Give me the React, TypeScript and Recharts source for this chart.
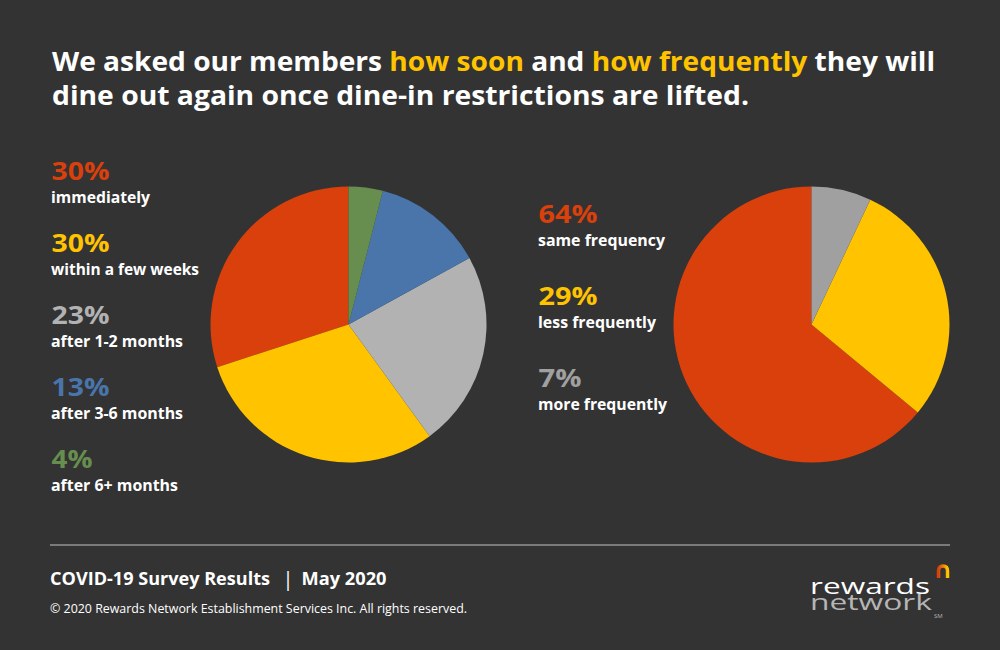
import React from 'react';
import { PieChart, Pie, Cell } from 'recharts';

const soonCategories = ['immediately', 'within a few weeks', 'after 1-2 months', 'after 3-6 months', 'after 6+ months'];
const soonValues = [30, 30, 23, 13, 4];
const soonColors = ['#D9400B', '#FFC300', '#B2B2B2', '#4A75AB', '#678E4E'];

const freqCategories = ['same frequency', 'less frequently', 'more frequently'];
const freqValues = [64, 29, 7];
const freqColors = ['#D9400B', '#FFC300', '#A0A0A0'];

const soonData = soonCategories.map((name, i) => ({ name, value: soonValues[i] }));
const freqData = freqCategories.map((name, i) => ({ name, value: freqValues[i] }));

const FONT = '"Open Sans", Lato, sans-serif';
const BG = '#333333';

const soonPctWidths = [58, 58, 58, 58, 41];
const soonLabelWidths = [99, 148, 132, 132, 127];
const freqPctWidths = [59, 59, 43];
const freqLabelWidths = [127, 118, 129];

export default function App() {
  return (
    <div style={{ position: 'absolute', left: 0, top: 0, width: 1000, height: 650, background: BG, overflow: 'hidden' }}>
      <div style={{ position: 'absolute', left: 0, top: 0 }}>
        <PieChart width={1000} height={650} margin={{ top: 0, right: 0, bottom: 0, left: 0 }}>
          <Pie
            data={soonData}
            dataKey="value"
            nameKey="name"
            cx={348.5}
            cy={324.5}
            outerRadius={138}
            startAngle={90}
            endAngle={450}
            stroke="none"
            isAnimationActive={false}
          >
            {soonData.map((d, i) => (
              <Cell key={d.name} fill={soonColors[i]} />
            ))}
          </Pie>
          <Pie
            data={freqData}
            dataKey="value"
            nameKey="name"
            cx={811.5}
            cy={324.5}
            outerRadius={138}
            startAngle={90}
            endAngle={450}
            stroke="none"
            isAnimationActive={false}
          >
            {freqData.map((d, i) => (
              <Cell key={d.name} fill={freqColors[i]} />
            ))}
          </Pie>
        </PieChart>
      </div>
      <svg width={1000} height={650} style={{ position: 'absolute', left: 0, top: 0, pointerEvents: 'none' }}>
        <defs>
          <linearGradient id="logoGrad" x1="0" y1="0" x2="1" y2="0">
            <stop offset="0%" stopColor="#D9400B" />
            <stop offset="100%" stopColor="#FFC300" />
          </linearGradient>
        </defs>
        <text x={52} y={71} fontFamily={FONT} fontWeight={700} fontSize={27.5} fill="#ffffff" textLength={883} lengthAdjust="spacingAndGlyphs">
          <tspan>We asked our members </tspan>
          <tspan fill="#FFC300">how soon</tspan>
          <tspan> and </tspan>
          <tspan fill="#FFC300">how frequently</tspan>
          <tspan> they will</tspan>
        </text>
        <text x={52} y={105} fontFamily={FONT} fontWeight={700} fontSize={27.5} fill="#ffffff" textLength={697} lengthAdjust="spacingAndGlyphs">
          dine out again once dine-in restrictions are lifted.
        </text>

        {soonCategories.map((c, i) => (
          <g key={c}>
            <text x={51.5} y={179.5 + i * 72} fontFamily={FONT} fontWeight={700} fontSize={24.5} fill={soonColors[i]} textLength={soonPctWidths[i]} lengthAdjust="spacingAndGlyphs">
              {`${soonValues[i]}%`}
            </text>
            <text x={51} y={203 + i * 72} fontFamily={FONT} fontWeight={700} fontSize={16} fill="#ffffff" textLength={soonLabelWidths[i]} lengthAdjust="spacingAndGlyphs">
              {c}
            </text>
          </g>
        ))}

        {freqCategories.map((c, i) => (
          <g key={c}>
            <text x={538.5} y={223 + i * 82} fontFamily={FONT} fontWeight={700} fontSize={24.5} fill={freqColors[i]} textLength={freqPctWidths[i]} lengthAdjust="spacingAndGlyphs">
              {`${freqValues[i]}%`}
            </text>
            <text x={538} y={245.5 + i * 82} fontFamily={FONT} fontWeight={700} fontSize={16} fill="#ffffff" textLength={freqLabelWidths[i]} lengthAdjust="spacingAndGlyphs">
              {c}
            </text>
          </g>
        ))}

        <line x1={50} y1={545} x2={950} y2={545} stroke="#7A7A7A" strokeWidth={2} />

        <text x={50} y={585} fontFamily={FONT} fontWeight={700} fontSize={18} fill="#ffffff" textLength={220} lengthAdjust="spacingAndGlyphs">
          COVID-19 Survey Results
        </text>
        <text x={282.5} y={586} fontFamily={FONT} fontWeight={400} fontSize={20} fill="#ffffff">|</text>
        <text x={301.5} y={585} fontFamily={FONT} fontWeight={700} fontSize={18} fill="#ffffff" textLength={85} lengthAdjust="spacingAndGlyphs">
          May 2020
        </text>
        <text x={50} y={612.5} fontFamily={FONT} fontWeight={400} fontSize={13} fill="#ffffff" textLength={417} lengthAdjust="spacingAndGlyphs">
          © 2020 Rewards Network Establishment Services Inc. All rights reserved.
        </text>

        <text fontFamily={FONT} fontWeight={500} fontSize={21}>
          <tspan x={810} y={593.5} fill="#ffffff" textLength={120} lengthAdjust="spacingAndGlyphs">rewards</tspan>
          <tspan x={810} y={609.5} fill="#B5B5B5" textLength={122} lengthAdjust="spacingAndGlyphs">network</tspan>
          <tspan x={934} y={618} fill="#B5B5B5" fontSize={6} fontWeight={400}>SM</tspan>
        </text>
        <path d="M 938.5 578 V 571 Q 938.5 566 943 566 Q 947.5 566 947.5 571 V 578" fill="none" stroke="url(#logoGrad)" strokeWidth={3.5} />
      </svg>
    </div>
  );
}
